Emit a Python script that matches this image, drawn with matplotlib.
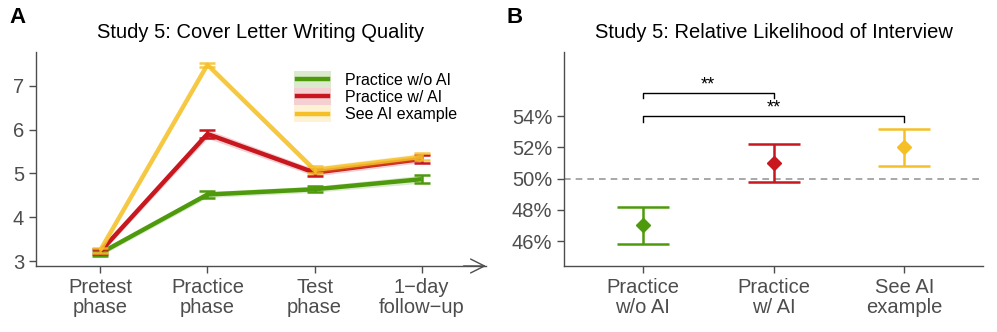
import matplotlib.pyplot as plt
import numpy as np
from matplotlib.legend_handler import HandlerBase
from matplotlib.patches import Rectangle
from matplotlib.lines import Line2D

plt.rcParams["font.family"] = ["Liberation Sans", "DejaVu Sans"]

# Panel A data
phases = ["Pretest\nphase", "Practice\nphase", "Test\nphase", "1\u2212day\nfollow\u2212up"]
groups = ["Practice w/o AI", "Practice w/ AI", "See AI example"]
colors = ["#4E9A0C", "#C8171E", "#F5C027"]
quality_green = [3.18, 4.52, 4.64, 4.87]
quality_red = [3.22, 5.90, 5.02, 5.33]
quality_yellow = [3.25, 7.48, 5.08, 5.38]
err_green = [0.06, 0.07, 0.07, 0.09]
err_red = [0.06, 0.10, 0.08, 0.08]
err_yellow = [0.06, 0.05, 0.08, 0.08]
quality = [quality_green, quality_red, quality_yellow]
errs = [err_green, err_red, err_yellow]

# Panel B data
cats_b = ["Practice\nw/o AI", "Practice\nw/ AI", "See AI\nexample"]
likelihood = [47.0, 51.0, 52.0]
ci_low = [45.8, 49.8, 50.8]
ci_high = [48.2, 52.2, 53.2]
yticks_b = [46, 48, 50, 52, 54]

axis_col = "#4d4d4d"

fig = plt.figure(figsize=(9.97, 3.32), dpi=100)
axA = fig.add_axes([0.0361, 0.1988, 0.4514, 0.6446])
axB = fig.add_axes([0.5657, 0.1988, 0.4203, 0.6446])


def style(ax):
    for s in ["top", "right"]:
        ax.spines[s].set_visible(False)
    for s in ["left", "bottom"]:
        ax.spines[s].set_color(axis_col)
        ax.spines[s].set_linewidth(1.0)
    ax.tick_params(colors=axis_col, labelcolor=axis_col, labelsize=14.5,
                   length=5, width=1.0)


# ---- Panel A
style(axA)
x = np.arange(len(phases))
for i, (vals, e, c) in enumerate(zip(quality, errs, colors)):
    vals = np.array(vals)
    e = np.array(e)
    alpha = 0.85 if i == 2 else 1.0
    axA.fill_between(x, vals - e, vals + e, color=c, alpha=0.2, lw=0, zorder=1 + i)
    axA.plot(x, vals, color=c, lw=3.2, alpha=alpha, zorder=2 + i, solid_capstyle="butt",
             label=groups[i])
    axA.errorbar(x, vals, yerr=e, fmt="none", ecolor=c, elinewidth=1.8, capsize=6,
                 capthick=1.8, alpha=alpha, zorder=2 + i)

axA.set_xlim(-0.6, 3.6)
axA.set_ylim(2.89, 7.77)
axA.set_yticks([3, 4, 5, 6, 7])
axA.set_xticks(x)
axA.set_xticklabels(phases, linespacing=1.1)
axA.annotate("", xy=(1.0, 0), xycoords="axes fraction", xytext=(0.95, 0),
             arrowprops=dict(arrowstyle="->,head_length=1.0,head_width=0.5",
                             color=axis_col, lw=1.0, shrinkA=0, shrinkB=0))
axA.set_title("Study 5: Cover Letter Writing Quality", fontsize=14.5, pad=10)


class RibbonHandler(HandlerBase):
    def create_artists(self, legend, orig, xd, yd, w, h, fontsize, trans):
        c = orig.get_color()
        r = Rectangle((xd - 1, yd - 2), w + 2, h + 4, facecolor=c, alpha=0.2,
                      edgecolor="none", transform=trans)
        l = Line2D([xd + 1, xd + w - 1], [yd + h / 2, yd + h / 2], color=c, lw=3.2,
                   transform=trans)
        return [r, l]


handles = axA.get_legend_handles_labels()[0]
leg = axA.legend(handles=handles, labels=groups, loc="upper left",
                 bbox_to_anchor=(0.545, 0.97), frameon=False, fontsize=11.5,
                 handlelength=2.1, handletextpad=1.0, labelspacing=0.14,
                 handler_map={Line2D: RibbonHandler()})

# ---- Panel B
style(axB)
xb = np.arange(len(cats_b))
axB.axhline(50, color="#9a9a9a", lw=1.2, ls=(0, (4, 3)), zorder=1)
for i in range(len(cats_b)):
    lo = likelihood[i] - ci_low[i]
    hi = ci_high[i] - likelihood[i]
    axB.errorbar(xb[i], likelihood[i], yerr=[[lo], [hi]], fmt="D", color=colors[i],
                 ms=7, elinewidth=1.8, capsize=19, capthick=1.8, zorder=3)


def bracket(ax, x1, x2, y, h, text):
    ax.plot([x1, x1, x2, x2], [y - h, y, y, y - h], color="black", lw=1.0)
    ax.text((x1 + x2) / 2, y - 0.05, text, ha="center", va="bottom", fontsize=13)


bracket(axB, 0, 1, 55.5, 0.35, "**")
bracket(axB, 0, 2, 54.0, 0.35, "**")

axB.set_xlim(-0.6, 2.6)
axB.set_ylim(44.4, 58.1)
axB.set_yticks(yticks_b)
axB.set_yticklabels([f"{v}%" for v in yticks_b])
axB.set_xticks(xb)
axB.set_xticklabels(cats_b, linespacing=1.1)
axB.set_title("Study 5: Relative Likelihood of Interview", fontsize=14.5, pad=10)

fig.text(0.009, 1 - 7 / 332, "A", fontsize=16, fontweight="bold", va="top")
fig.text(0.508, 1 - 7 / 332, "B", fontsize=16, fontweight="bold", va="top")

fig.savefig("out.png", dpi=100)
